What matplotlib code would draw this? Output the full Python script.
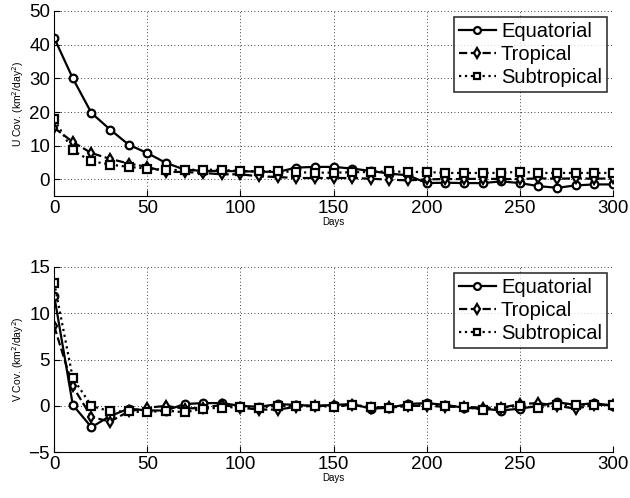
import matplotlib
matplotlib.use("Agg")
import matplotlib.pyplot as plt

plt.rcParams['font.family'] = ['Liberation Sans', 'DejaVu Sans']

days = list(range(0, 301, 10))

# U covariance (km^2/day^2)
u_equatorial = [42, 30, 19.7, 14.8, 10.3, 7.8, 4.9, 2.9, 2.5, 2.5, 2.4, 2.3, 2.2, 3.5, 3.7, 3.7,
                3.2, 2.5, 1.7, 1.2, -1.1, -1.0, -1.1, -1.1, -0.6, -1.1, -2.0, -2.5, -1.8, -1.5, -1.5]
u_tropical = [15.3, 11.1, 7.8, 6.1, 4.7, 3.7, 2.2, 2.2, 1.9, 1.5, 1.5, 0.9, 0.7, 0.4, 0.4, 0.4,
              0.4, 0.2, -0.1, -0.3, 0.0, 0.1, 0.1, 0.2, 0.1, 0.1, 0.3, 0.2, 0.3, 0.2, 0.3]
u_subtropical = [17.8, 8.6, 5.4, 4.4, 3.7, 3.2, 2.8, 2.8, 2.9, 2.8, 2.5, 2.4, 2.5, 2.1, 2.0, 2.0,
                 2.1, 2.2, 2.4, 2.2, 2.2, 1.9, 1.9, 1.9, 1.9, 2.3, 1.9, 1.9, 1.9, 1.9, 1.9]

# V covariance (km^2/day^2)
v_equatorial = [11.9, 0.1, -2.3, -1.1, -0.3, -0.5, -0.5, 0.2, 0.3, 0.3, 0.0, -0.1, 0.2, 0.1, 0.0, 0.1,
                0.2, -0.3, -0.2, 0.2, 0.3, 0.1, -0.2, -0.3, -0.5, -0.3, 0.0, 0.4, 0.1, 0.3, 0.0]
v_tropical = [8.6, 2.1, -1.2, -1.7, -0.6, -0.2, 0.0, -0.3, -0.2, 0.1, -0.2, -0.4, -0.4, -0.1, 0.0, 0.0,
              0.1, -0.2, -0.1, 0.0, 0.0, -0.1, -0.1, -0.2, -0.2, 0.2, 0.3, 0.0, -0.3, 0.1, 0.1]
v_subtropical = [13.3, 3.0, 0.0, -0.6, -0.6, -0.7, -0.5, -0.7, -0.3, -0.2, -0.1, -0.2, 0.0, 0.0, 0.0, -0.1,
                 0.1, -0.1, -0.2, 0.0, 0.1, 0.0, -0.1, -0.4, -0.2, 0.0, -0.2, 0.1, 0.1, 0.1, 0.1]

series_names = ["Equatorial", "Tropical", "Subtropical"]
styles = [("-", "o"), ("--", "d"), (":", "s")]

fig = plt.figure(figsize=(6.3, 4.98), dpi=100)
ax_u = fig.add_axes([0.086, 0.606, 0.887, 0.372])
ax_v = fig.add_axes([0.086, 0.092, 0.887, 0.372])


def draw_panel(ax, data, ylim, yticks, ylabel):
    for vals, name, (ls, mk) in zip(data, series_names, styles):
        ax.plot(days, vals, color="black", linestyle=ls, linewidth=1.6, marker=mk,
                markersize=5.5, markerfacecolor="white", markeredgecolor="black",
                markeredgewidth=1.6, label=name)
    ax.set_xlim(0, 300)
    ax.set_ylim(*ylim)
    ax.set_xticks([0, 50, 100, 150, 200, 250, 300])
    ax.set_yticks(yticks)
    ax.grid(True, linestyle=(0, (1, 3)), color="black", linewidth=0.6)
    ax.tick_params(direction="in", labelsize=13.5, length=4, pad=3)
    for side in ("top", "right"):
        ax.spines[side].set_visible(False)
    ax.set_xlabel("Days", fontsize=7, labelpad=0)
    ax.set_ylabel(ylabel, fontsize=7.5, labelpad=2)
    leg = ax.legend(loc="upper right", fontsize=14.5, frameon=True, fancybox=False,
                    edgecolor="black", handlelength=1.85, handletextpad=0.25,
                    borderpad=0.25, labelspacing=0.2, borderaxespad=0.3,
                    markerscale=0.9)
    leg.get_frame().set_linewidth(1.2)


draw_panel(ax_u, [u_equatorial, u_tropical, u_subtropical], (-5, 50),
           [0, 10, 20, 30, 40, 50], "U Cov. (km$^2$/day$^2$)")
draw_panel(ax_v, [v_equatorial, v_tropical, v_subtropical], (-5, 15),
           [-5, 0, 5, 10, 15], "V Cov. (km$^2$/day$^2$)")

fig.savefig("out.png", dpi=100)
